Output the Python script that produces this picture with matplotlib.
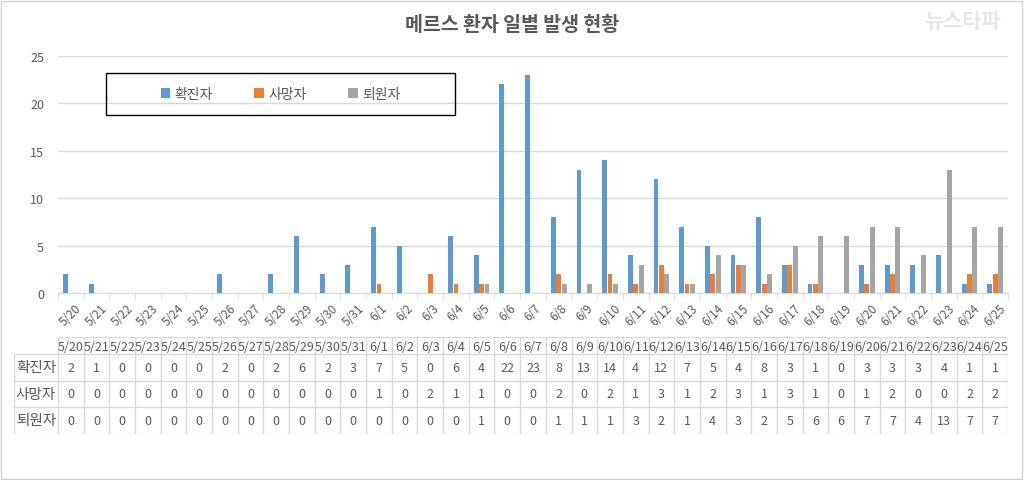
import numpy as np
import matplotlib
matplotlib.use("Agg")
import matplotlib.pyplot as plt
from matplotlib.patches import Rectangle

plt.rcParams["font.family"] = ["Noto Sans CJK KR", "DejaVu Sans"]

# data
dates = ["5/20", "5/21", "5/22", "5/23", "5/24", "5/25", "5/26", "5/27", "5/28",
         "5/29", "5/30", "5/31", "6/1", "6/2", "6/3", "6/4", "6/5", "6/6", "6/7",
         "6/8", "6/9", "6/10", "6/11", "6/12", "6/13", "6/14", "6/15", "6/16",
         "6/17", "6/18", "6/19", "6/20", "6/21", "6/22", "6/23", "6/24", "6/25"]
confirmed = [2, 1, 0, 0, 0, 0, 2, 0, 2, 6, 2, 3, 7, 5, 0, 6, 4, 22, 23, 8, 13,
             14, 4, 12, 7, 5, 4, 8, 3, 1, 0, 3, 3, 3, 4, 1, 1]
deaths = [0, 0, 0, 0, 0, 0, 0, 0, 0, 0, 0, 0, 1, 0, 2, 1, 1, 0, 0, 2, 0, 2, 1,
          3, 1, 2, 3, 1, 3, 1, 0, 1, 2, 0, 0, 2, 2]
discharged = [0, 0, 0, 0, 0, 0, 0, 0, 0, 0, 0, 0, 0, 0, 0, 0, 1, 0, 0, 1, 1, 1,
              3, 2, 1, 4, 3, 2, 5, 6, 6, 7, 7, 4, 13, 7, 7]
series_names = ["확진자", "사망자", "퇴원자"]
series = [confirmed, deaths, discharged]
colors = ["#5B9BD5", "#ED7D31", "#A5A5A5"]

W, H = 1024, 481
txt = "#595959"
grid = "#D9D9D9"

fig = plt.figure(figsize=(W / 100, H / 100), dpi=100)
fig.patch.set_facecolor("white")

# main chart area
ax = fig.add_axes([58 / W, 1 - 294 / H, 950 / W, 237 / H])
x = np.arange(len(dates))
bw = 0.19
offsets = [-0.21, 0.0, 0.21]
for vals, c, off, name in zip(series, colors, offsets, series_names):
    ax.bar(x + off, vals, width=bw, color=c, label=name, zorder=3)

ax.set_xlim(-0.5, len(dates) - 0.5)
ax.set_ylim(0, 25)
ax.set_yticks(range(0, 26, 5))
ax.yaxis.grid(True, color=grid, linewidth=1, zorder=0)
for s in ["top", "right", "left"]:
    ax.spines[s].set_visible(False)
ax.spines["bottom"].set_color(grid)
ax.tick_params(axis="y", length=0, labelsize=9, labelcolor=txt, pad=10)
ax.set_xticks(x)
ax.set_xticklabels(dates, rotation=45, fontsize=8.5, color=txt)
ax.tick_params(axis="x", length=0, pad=6)
ax.set_xticks(np.arange(-0.5, len(dates), 1), minor=True)
ax.tick_params(axis="x", which="minor", length=4, color=grid)

fig.text(0.5, 1 - 25 / H, "메르스 환자 일별 발생 현황", ha="center", va="center",
         fontsize=14, fontweight="bold", color=txt)
fig.text(962 / W, 1 - 22 / H, "뉴스타파", ha="center", va="center",
         fontsize=15, color="#E6E6E6", style="italic", fontweight="bold")

# legend inside a plain black box
fig.patches.append(Rectangle((106 / W, 1 - 116 / H), 349 / W, 42 / H,
                             transform=fig.transFigure, fill=False,
                             edgecolor="black", linewidth=1))
fig.legend(loc="center", bbox_to_anchor=((106 + 349 / 2) / W, 1 - 95 / H),
           ncol=3, frameon=False, fontsize=10, handlelength=0.7,
           handleheight=0.7, handletextpad=0.3, columnspacing=3.0,
           labelcolor=txt)

# data table under the chart
unit = 950 / len(dates)
tab_left = 14
tx = fig.add_axes([tab_left / W, 1 - 435 / H, (1008 - tab_left) / W, 97 / H])
tx.set_xlim(-0.5 - (58 - tab_left) / unit, len(dates) - 0.5)
rows_y = [0, 17, 44, 70, 97]
tx.set_ylim(97, 0)
tx.axis("off")
n = len(dates)
tx.hlines(rows_y[0], -0.5, n - 0.5, color=grid, linewidth=1)
tx.hlines(rows_y[1:], tx.get_xlim()[0], n - 0.5, color=grid, linewidth=1)
tx.vlines(tx.get_xlim()[0], rows_y[1], rows_y[-1], color=grid, linewidth=1)
tx.vlines(np.arange(-0.5, n, 1), rows_y[0], rows_y[-1], color=grid, linewidth=1)
for i, d in enumerate(dates):
    tx.text(i, (rows_y[0] + rows_y[1]) / 2 + 1, d, ha="center", va="center",
            fontsize=9, color=txt)
label_x = (tx.get_xlim()[0] - 0.5) / 2
for r, (name, vals) in enumerate(zip(series_names, series)):
    yc = (rows_y[r + 1] + rows_y[r + 2]) / 2
    tx.text(label_x, yc, name, ha="center", va="center", fontsize=10.5, color=txt)
    for i, v in enumerate(vals):
        tx.text(i, yc, str(v), ha="center", va="center", fontsize=9, color=txt)

# light frame around the whole picture
fig.patches.append(Rectangle((1 / W, 1 / H), (W - 3) / W, (H - 3) / H,
                             transform=fig.transFigure, fill=False,
                             edgecolor="#D0D0D0", linewidth=1))

fig.savefig("out.png", dpi=100)
